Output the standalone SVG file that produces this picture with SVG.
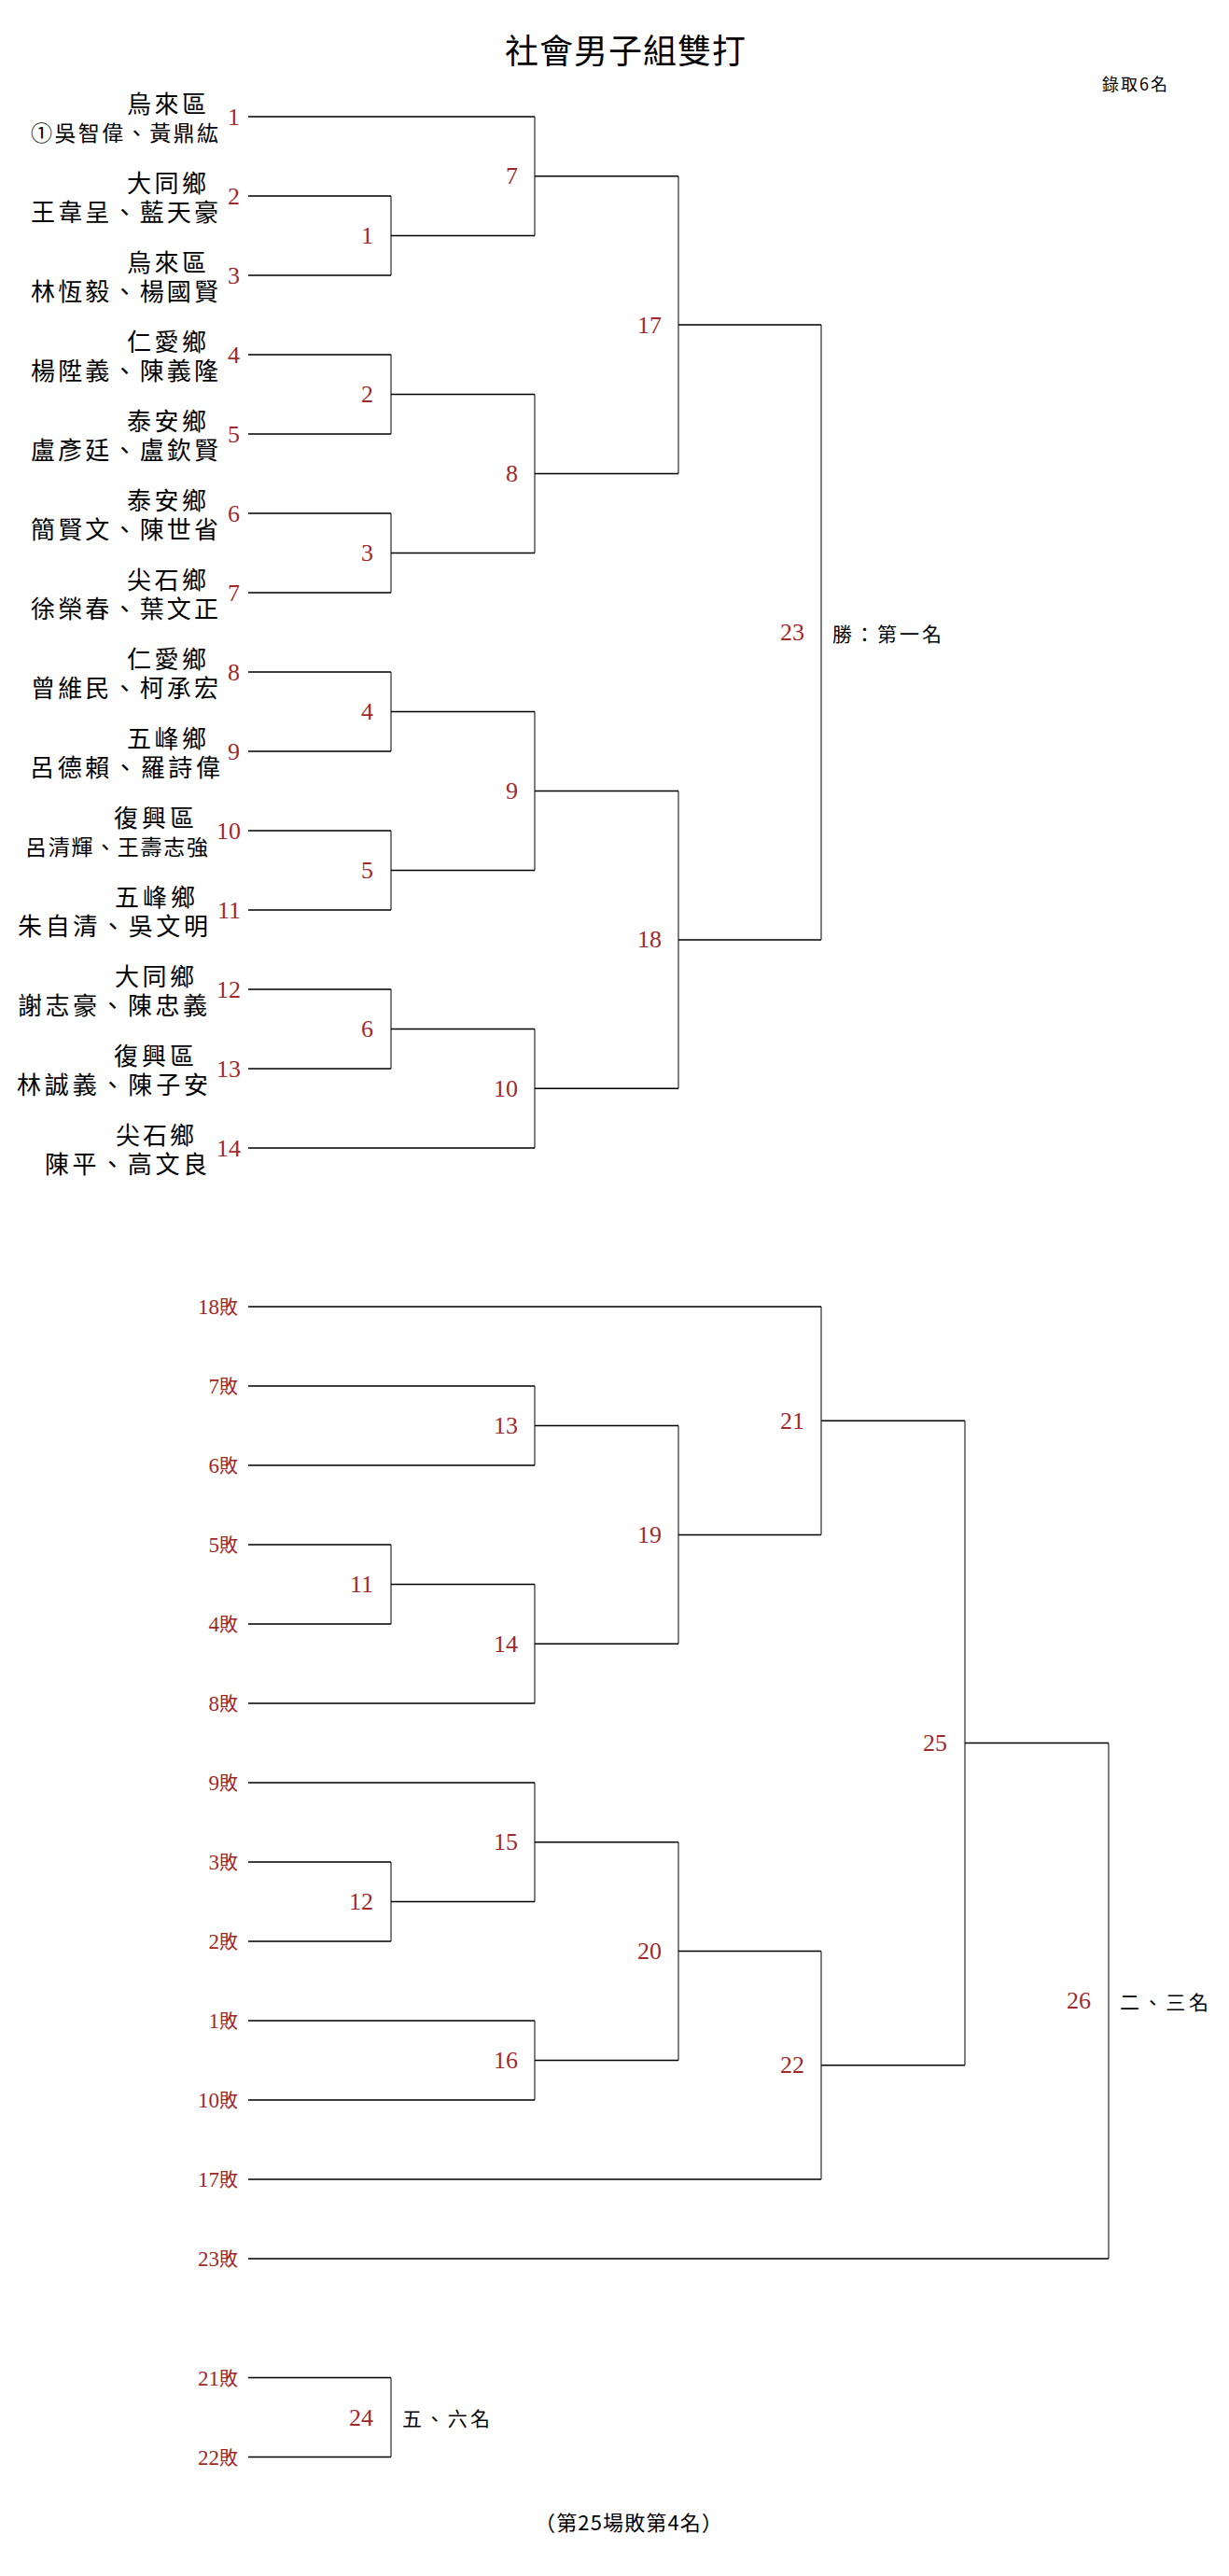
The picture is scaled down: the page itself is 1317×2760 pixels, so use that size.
<svg xmlns="http://www.w3.org/2000/svg" width="1317" height="2760" viewBox="0 0 1317 2760">
<style>
.bg{fill:#fff}
.h{fill:none;stroke:#000;stroke-width:1.5}
.v{fill:none;stroke:#000;stroke-width:1}
.t{font-family:"Noto Sans CJK TC","Noto Sans CJK SC",sans-serif;fill:#000}
.tm{font-family:"Liberation Sans","Noto Sans CJK TC","Noto Sans CJK SC",sans-serif;fill:#000}
.club{font-size:26px}
.pl{font-size:26px}
.pls{font-size:23px}
.n{font-family:"Liberation Serif","Noto Sans CJK TC",serif;font-size:26px;fill:#a0282b;text-anchor:end}
.ls{font-family:"Liberation Serif","Noto Sans CJK TC",serif;font-size:23px;fill:#a0282b;text-anchor:end}
.bai{font-family:"Noto Sans CJK TC",sans-serif;font-size:20px}
.r{font-size:21px}
</style>
<rect class="bg" x="0" y="0" width="1317" height="2760"/>
<text class="t" x="541" y="67.5" font-size="36" textLength="258" lengthAdjust="spacing">社會男子組雙打</text>
<text class="t" x="1181" y="97" font-size="18" textLength="70" lengthAdjust="spacing">錄取6名</text>

<g id="connectors">
<path class="h" d="M266 125H573M266 210H419M266 295H419M266 380H419M266 465H419M266 550H419M266 635H419M266 720H419M266 805H419M266 890H419M266 975H419M266 1060H419M266 1145H419M266 1230H573"/>
<path class="h" d="M419 252.5H573M419 422.5H573M419 592.5H573M419 762.5H573M419 932.5H573M419 1102.5H573M573 188.75H727M573 507.5H727M573 847.5H727M573 1166.25H727M727 348.1H880M727 1006.9H880"/>
<path class="v" d="M419 210V295M419 380V465M419 550V635M419 720V805M419 890V975M419 1060V1145M573 125V252.5M573 422.5V592.5M573 762.5V932.5M573 1102.5V1230M727 188.75V507.5M727 847.5V1166.25M880 348.1V1006.9"/>
<path class="h" d="M266 1400H880M266 1485H573M266 1570H573M266 1655H419M266 1740H419M266 1825H573M266 1910H573M266 1995H419M266 2080H419M266 2165H573M266 2250H573M266 2335H880M266 2420H1188M266 2547.5H419M266 2632.5H419"/>
<path class="h" d="M573 1527.5H727M419 1697.5H573M573 1761.25H727M727 1644.4H880M880 1522.2H1034M419 2037.5H573M573 1973.75H727M573 2207.5H727M727 2090.6H880M880 2212.8H1034M1034 1867.5H1188"/>
<path class="v" d="M573 1485V1570M419 1655V1740M573 1697.5V1825M727 1527.5V1761.25M880 1400V1644.4M419 1995V2080M573 1910V2037.5M573 2165V2250M727 1973.75V2207.5M880 2090.6V2335M1034 1522.2V2212.8M1188 1867.5V2420M419 2547.5V2632.5"/>
</g>

<g id="team-1"><text class="tm club" x="136" y="121" textLength="85" lengthAdjust="spacing">烏來區</text><text class="tm pls" x="33" y="151" textLength="201" lengthAdjust="spacing">①吳智偉、黃鼎紘</text><text class="n" x="257" y="133.5">1</text></g>
<g id="team-2"><text class="tm club" x="136" y="206" textLength="85" lengthAdjust="spacing">大同鄉</text><text class="tm pl" x="33" y="237" textLength="201" lengthAdjust="spacing">王韋呈、藍天豪</text><text class="n" x="257" y="218.5">2</text></g>
<g id="team-3"><text class="tm club" x="136" y="291" textLength="85" lengthAdjust="spacing">烏來區</text><text class="tm pl" x="33" y="322" textLength="201" lengthAdjust="spacing">林恆毅、楊國賢</text><text class="n" x="257" y="303.5">3</text></g>
<g id="team-4"><text class="tm club" x="136" y="376" textLength="85" lengthAdjust="spacing">仁愛鄉</text><text class="tm pl" x="33" y="407" textLength="201" lengthAdjust="spacing">楊陞義、陳義隆</text><text class="n" x="257" y="388.5">4</text></g>
<g id="team-5"><text class="tm club" x="136" y="461" textLength="85" lengthAdjust="spacing">泰安鄉</text><text class="tm pl" x="33" y="492" textLength="201" lengthAdjust="spacing">盧彥廷、盧欽賢</text><text class="n" x="257" y="473.5">5</text></g>
<g id="team-6"><text class="tm club" x="136" y="546" textLength="85" lengthAdjust="spacing">泰安鄉</text><text class="tm pl" x="33" y="577" textLength="201" lengthAdjust="spacing">簡賢文、陳世省</text><text class="n" x="257" y="558.5">6</text></g>
<g id="team-7"><text class="tm club" x="136" y="631" textLength="85" lengthAdjust="spacing">尖石鄉</text><text class="tm pl" x="33" y="662" textLength="201" lengthAdjust="spacing">徐榮春、葉文正</text><text class="n" x="257" y="643.5">7</text></g>
<g id="team-8"><text class="tm club" x="136" y="716" textLength="85" lengthAdjust="spacing">仁愛鄉</text><text class="tm pl" x="33" y="747" textLength="201" lengthAdjust="spacing">曾維民、柯承宏</text><text class="n" x="257" y="728.5">8</text></g>
<g id="team-9"><text class="tm club" x="136" y="801" textLength="85" lengthAdjust="spacing">五峰鄉</text><text class="tm pl" x="32" y="832" textLength="204" lengthAdjust="spacing">呂德賴、羅詩偉</text><text class="n" x="257" y="813.5">9</text></g>
<g id="team-10"><text class="tm club" x="122" y="886" textLength="86" lengthAdjust="spacing">復興區</text><text class="tm pls" x="27" y="916" textLength="196" lengthAdjust="spacing">呂清輝、王壽志強</text><text class="n" x="258" y="898.5">10</text></g>
<g id="team-11"><text class="tm club" x="123" y="971" textLength="86" lengthAdjust="spacing">五峰鄉</text><text class="tm pl" x="19" y="1002" textLength="204" lengthAdjust="spacing">朱自清、吳文明</text><text class="n" x="258" y="983.5">11</text></g>
<g id="team-12"><text class="tm club" x="123" y="1056" textLength="85" lengthAdjust="spacing">大同鄉</text><text class="tm pl" x="19" y="1087" textLength="203" lengthAdjust="spacing">謝志豪、陳忠義</text><text class="n" x="258" y="1068.5">12</text></g>
<g id="team-13"><text class="tm club" x="122" y="1141" textLength="86" lengthAdjust="spacing">復興區</text><text class="tm pl" x="18" y="1172" textLength="205" lengthAdjust="spacing">林誠義、陳子安</text><text class="n" x="258" y="1153.5">13</text></g>
<g id="team-14"><text class="tm club" x="124" y="1226" textLength="84" lengthAdjust="spacing">尖石鄉</text><text class="tm pl" x="48" y="1257" textLength="174" lengthAdjust="spacing">陳平、高文良</text><text class="n" x="258" y="1238.5">14</text></g>

<g id="match-1"><text class="n" x="400" y="261">1</text></g>
<g id="match-2"><text class="n" x="400" y="431">2</text></g>
<g id="match-3"><text class="n" x="400" y="601">3</text></g>
<g id="match-4"><text class="n" x="400" y="771">4</text></g>
<g id="match-5"><text class="n" x="400" y="941">5</text></g>
<g id="match-6"><text class="n" x="400" y="1111">6</text></g>
<g id="match-7"><text class="n" x="555" y="197.3">7</text></g>
<g id="match-8"><text class="n" x="555" y="516">8</text></g>
<g id="match-9"><text class="n" x="555" y="856">9</text></g>
<g id="match-10"><text class="n" x="555" y="1174.8">10</text></g>
<g id="match-17"><text class="n" x="709" y="356.6">17</text></g>
<g id="match-18"><text class="n" x="709" y="1015.4">18</text></g>
<g id="match-23"><text class="n" x="862" y="686">23</text><text class="t r" x="892" y="686.5" textLength="117" lengthAdjust="spacing">勝：第一名</text></g>

<g id="loser-18"><text class="ls" x="255" y="1408">18<tspan class="bai">敗</tspan></text></g>
<g id="loser-7"><text class="ls" x="255" y="1493">7<tspan class="bai">敗</tspan></text></g>
<g id="loser-6"><text class="ls" x="255" y="1578">6<tspan class="bai">敗</tspan></text></g>
<g id="loser-5"><text class="ls" x="255" y="1663">5<tspan class="bai">敗</tspan></text></g>
<g id="loser-4"><text class="ls" x="255" y="1748">4<tspan class="bai">敗</tspan></text></g>
<g id="loser-8"><text class="ls" x="255" y="1833">8<tspan class="bai">敗</tspan></text></g>
<g id="loser-9"><text class="ls" x="255" y="1918">9<tspan class="bai">敗</tspan></text></g>
<g id="loser-3"><text class="ls" x="255" y="2003">3<tspan class="bai">敗</tspan></text></g>
<g id="loser-2"><text class="ls" x="255" y="2088">2<tspan class="bai">敗</tspan></text></g>
<g id="loser-1"><text class="ls" x="255" y="2173">1<tspan class="bai">敗</tspan></text></g>
<g id="loser-10"><text class="ls" x="255" y="2258">10<tspan class="bai">敗</tspan></text></g>
<g id="loser-17"><text class="ls" x="255" y="2343">17<tspan class="bai">敗</tspan></text></g>
<g id="loser-23"><text class="ls" x="255" y="2428">23<tspan class="bai">敗</tspan></text></g>
<g id="loser-21"><text class="ls" x="255" y="2555.5">21<tspan class="bai">敗</tspan></text></g>
<g id="loser-22"><text class="ls" x="255" y="2640.5">22<tspan class="bai">敗</tspan></text></g>

<g id="match-11"><text class="n" x="400" y="1706">11</text></g>
<g id="match-12"><text class="n" x="400" y="2046">12</text></g>
<g id="match-13"><text class="n" x="555" y="1536">13</text></g>
<g id="match-14"><text class="n" x="555" y="1769.8">14</text></g>
<g id="match-15"><text class="n" x="555" y="1982.3">15</text></g>
<g id="match-16"><text class="n" x="555" y="2216">16</text></g>
<g id="match-19"><text class="n" x="709" y="1652.9">19</text></g>
<g id="match-20"><text class="n" x="709" y="2099.1">20</text></g>
<g id="match-21"><text class="n" x="862" y="1530.7">21</text></g>
<g id="match-22"><text class="n" x="862" y="2221.3">22</text></g>
<g id="match-25"><text class="n" x="1015" y="1876">25</text></g>
<g id="match-26"><text class="n" x="1169" y="2152.3">26</text><text class="t r" x="1200" y="2152.5" textLength="95" lengthAdjust="spacing">二、三名</text></g>
<g id="match-24"><text class="n" x="400" y="2598.5">24</text><text class="t r" x="431" y="2598.5" textLength="94" lengthAdjust="spacing">五、六名</text></g>

<text class="t" x="573" y="2711" font-size="22" textLength="201" lengthAdjust="spacing">（第25場敗第4名）</text>
</svg>
